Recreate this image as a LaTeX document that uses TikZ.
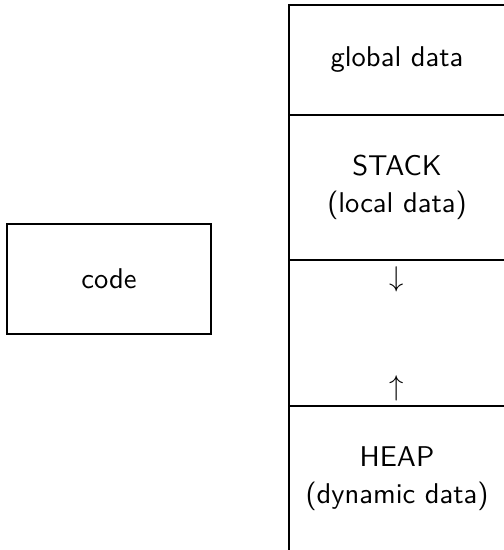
\documentclass[tikz,border=0pt]{standalone}
\begin{document}
\begin{tikzpicture}[x=0.35pt,y=-0.35pt,
  every node/.style={font=\sffamily\fontsize{10}{13}\selectfont,inner sep=0pt,align=center},
  cell/.style={draw,minimum width=216*0.35pt},
  box/.style={draw,minimum width=204*0.35pt,minimum height=110*0.35pt}]
\useasboundingbox (0,0) rectangle (504,550);
\node[cell,minimum height=110*0.35pt] (global) at (397,60) {global data};
\node[cell,minimum height=145*0.35pt] (stack) at (397,187.5) {STACK\\(local data)};
\node[cell,minimum height=146*0.35pt] (free) at (397,333) {};
\node[cell,minimum height=146*0.35pt] (heap) at (397,479) {HEAP\\(dynamic data)};
\node (down) at (397,279.5) {$\downarrow$};
\node (up) at (397,388) {$\uparrow$};
\node[box] (code) at (109,279) {code};
\end{tikzpicture}
\end{document}
